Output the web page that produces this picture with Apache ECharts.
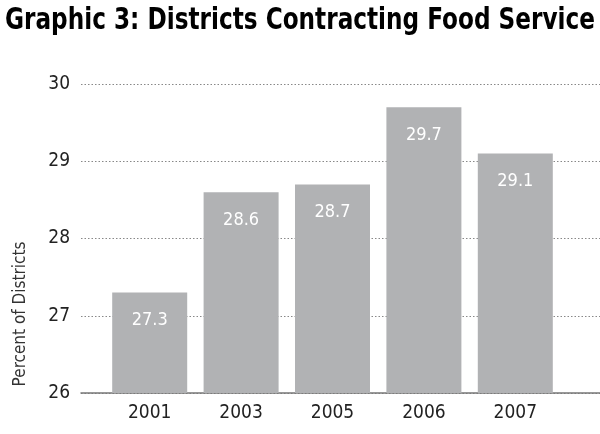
<!DOCTYPE html>
<html>
<head>
<meta charset="utf-8">
<script src="https://cdn.jsdelivr.net/npm/echarts@6/dist/echarts.min.js"></script>
<style>html,body{margin:0;padding:0;background:#fff}#c{width:600px;height:434px}</style>
</head>
<body>
<div id="c"></div>
<script>
const categories = ['2001', '2003', '2005', '2006', '2007'];
const values = [27.3, 28.6, 28.7, 29.7, 29.1];
const yTicks = [26, 27, 28, 29, 30];
const titleText = 'Graphic 3: Districts Contracting Food Service';
const yName = 'Percent of Districts';

const FONT = '"Liberation Sans Narrow", "DejaVu Sans Condensed", "Liberation Sans", sans-serif';
const titleFont = 'bold 31px ' + FONT;
const mctx = document.createElement('canvas').getContext('2d');
mctx.font = titleFont;
const titleScale = 590 / mctx.measureText(titleText).width;

const chart = echarts.init(document.getElementById('c'), null, {renderer: 'canvas'});
chart.setOption({
  backgroundColor: '#fff',
  animation: false,
  graphic: [{
    type: 'text', x: 5, y: 5, scaleX: titleScale,
    style: {text: titleText, font: titleFont, fill: '#000', textAlign: 'left', textVerticalAlign: 'top'}
  }, {
    type: 'text', x: 21, y: 314, rotation: Math.PI / 2,
    style: {text: yName, font: '17px ' + FONT, fill: '#333', textAlign: 'center', textVerticalAlign: 'middle'}
  }],
  grid: [
    {left: 81, right: 0, top: 84, bottom: 41},
    {left: 104, right: 39, top: 84, bottom: 41}
  ],
  xAxis: [
    {gridIndex: 0, type: 'category', data: [''], axisLabel: {show: false}, axisTick: {show: false},
     axisLine: {show: true, lineStyle: {color: '#777', width: 1.5}}},
    {gridIndex: 1, type: 'category', data: categories, axisTick: {show: false}, axisLine: {show: false},
     axisLabel: {fontFamily: FONT, fontSize: 19, color: '#222', margin: 11}}
  ],
  yAxis: [
    {gridIndex: 0, type: 'value', min: yTicks[0], max: yTicks[yTicks.length - 1], interval: 1,
     axisLine: {show: false}, axisTick: {show: false},
     axisLabel: {fontFamily: FONT, fontSize: 19, color: '#222', margin: 11},
     splitLine: {show: true, lineStyle: {color: '#888', type: [1.5, 2], width: 1}}},
    {gridIndex: 1, type: 'value', min: yTicks[0], max: yTicks[yTicks.length - 1], interval: 1, show: false,
     splitLine: {show: false}}
  ],
  series: [{
    type: 'bar', xAxisIndex: 1, yAxisIndex: 1, data: values, barWidth: 75,
    itemStyle: {color: '#b1b2b4'},
    label: {show: true, position: 'insideTop', distance: 19, color: '#fff', fontFamily: FONT, fontSize: 18,
      formatter: p => p.value.toFixed(1)}
  }]
});
</script>
</body>
</html>
